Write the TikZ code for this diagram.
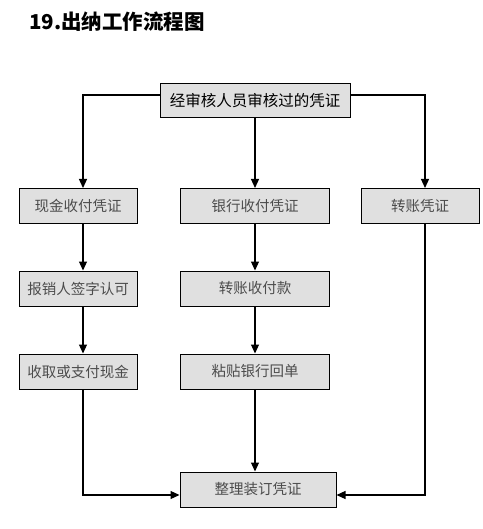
\documentclass[tikz,border=0pt]{standalone}
\usepackage{fontspec}
\newfontfamily\cjk{Noto Sans CJK SC}
\usetikzlibrary{positioning, arrows.meta}

\begin{document}
\begin{tikzpicture}[x=1pt,y=-1pt,
  box/.style={draw, line width=1pt, fill=black!12, minimum height=35pt, inner sep=0pt,
    font=\cjk\fontsize{14.5}{16}\selectfont, text=black!70},
  flow/.style={line width=1.2pt, -{Triangle[length=9pt,width=8pt]}}]
  \useasboundingbox (0,0) rectangle (482,529);
  % Title
  \node[anchor=west, inner sep=0pt, font=\cjk\bfseries\fontsize{20.5}{23}\selectfont] (title) at (29,22) {19.出纳工作流程图};
  % Starting box
  \node[box, minimum width=190pt, minimum height=34pt, text=black, font=\cjk\fontsize{15.5}{17}\selectfont] (start) at (255,101) {经审核人员审核过的凭证};
  \foreach \name/\x/\y/\w/\label in {
    cashA/78/206/118/现金收付凭证,
    bankA/255/206/149/银行收付凭证,
    transA/420/206/118/转账凭证,
    cashB/78/288.5/118/报销人签字认可,
    bankB/255/288.5/149/转账收付款,
    cashC/78/371.5/118/收取或支付现金,
    bankC/255/371.5/149/粘贴银行回单,
    final/258/489.5/156/整理装订凭证
  }{
    % One process box
    \node[box, minimum width=\w pt] (\name) at (\x,\y) {\label};
  }
  % From the start box into the three columns
  \draw[flow] ([yshift=6pt]start.west) -| ([xshift=5pt]cashA.north);
  \draw[flow] (start) -- (bankA);
  \draw[flow] ([yshift=6pt]start.east) -| ([xshift=5pt]transA.north);
  % Cash column
  \draw[flow] ([xshift=5pt]cashA.south) -- ([xshift=5pt]cashB.north);
  \draw[flow] ([xshift=5pt]cashB.south) -- ([xshift=5pt]cashC.north);
  \draw[flow] ([xshift=5pt]cashC.south) |- ([yshift=-5.5pt]final.west);
  % Bank column
  \draw[flow] (bankA) -- (bankB);
  \draw[flow] (bankB) -- (bankC);
  \draw[flow] (bankC.south) -- (bankC.south |- final.north);
  % Transfer column
  \draw[flow] ([xshift=5pt]transA.south) |- ([yshift=-5.5pt]final.east);
\end{tikzpicture}
\end{document}
